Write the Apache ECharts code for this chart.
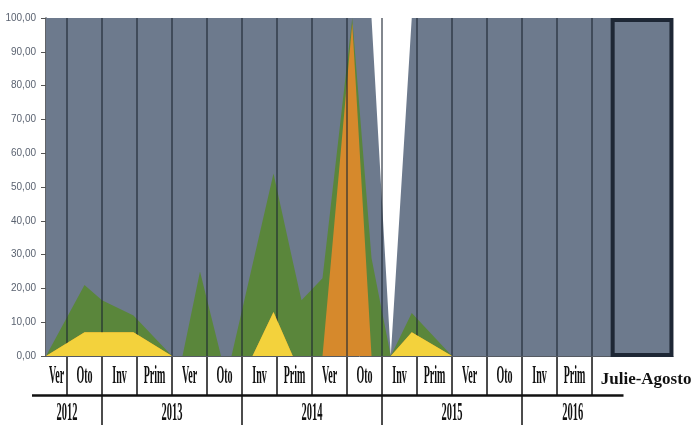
<!DOCTYPE html>
<html><head><meta charset="utf-8">
<script src="https://cdn.jsdelivr.net/npm/echarts@6/dist/echarts.min.js"></script>
<style>html,body{margin:0;padding:0;background:#fff}#c{width:693px;height:425px}</style>
</head><body><div id="c"></div>
<script>
// sample times, in season units (each season category spans one unit; Ver 2012 = [0,1])
const sampleAt   = [0.4, 1.5, 2.0, 2.9, 4.0, 4.3, 4.8, 5.4, 5.7, 6.3, 6.9, 7.45, 7.7, 8.3, 9.15, 9.7, 10.25, 10.85, 12.0, 18.314];
const yellowVals = [0,   7,   7,   7,   0,   0,   0,   0,   0,   0,   13,  0,    0,   0,   0,    0,   0,     7,     0,    0];
const orangeVals = [0,   0,   0,   0,   0,   0,   0,   0,   0,   0,   0,   0,    0,   0,   98.5, 0,   0,     0,     0,    0];
const greenVals  = [0,   14,  9.5, 5,   0,   0,   25,  0,   0,   27,  41,  28,   16.5,23,  1.5,  29,  0,     5.7,   0,    0];
const grayVals   = [100, 79,  83.5,88,  100, 100, 75,  100, 100, 73,  46,  72,   83.5,77,  0,    71,  0,     87.3,  100,  100];

const seasonLabels = ['Ver','Oto','Inv','Prim','Ver','Oto','Inv','Prim','Ver','Oto','Inv','Prim','Ver','Oto','Inv','Prim'];
const yearLabels = ['2012','2013','2014','2015','2016'];
const yearFrom = [0, 2, 6, 10, 14];
const yearTo   = [2, 6, 10, 14, 16.9];
const lastPeriodLabel = 'Julie-Agosto';
const lastPeriodSpan = [16.59, 18.27];
const lastPeriodRange = [0.3, 99.4];

const X_MIN = 0.4, X_MAX = 18.314;
const SERIF = '"Liberation Serif","Times New Roman",serif';

// stacking order bottom -> top: yellow, orange, green, gray
const layers = [yellowVals, orangeVals, greenVals, grayVals];
const cum = [];
layers.forEach((vals, li) => {
  cum.push(vals.map((v, i) => v + (li ? cum[li - 1][i] : 0)));
});

function areaSeries(name, tops, color, extra) {
  return Object.assign({
    name, type: 'line',
    data: sampleAt.map((x, i) => [x, tops[i]]),
    symbol: 'none', showSymbol: false,
    lineStyle: { width: 0 },
    areaStyle: { color, opacity: 1, origin: 'start' },
    itemStyle: { color },
    silent: true
  }, extra || {});
}

const chart = echarts.init(document.getElementById('c'));
chart.setOption({
  animation: false,
  backgroundColor: '#ffffff',
  grid: { left: 46, right: 20, top: 18, bottom: 69, containLabel: false },
  xAxis: {
    type: 'value', min: X_MIN, max: X_MAX,
    axisLine: { show: true, lineStyle: { color: '#555a62', width: 1 } },
    axisTick: { show: false }, axisLabel: { show: false }, splitLine: { show: false }
  },
  yAxis: {
    type: 'value', min: 0, max: 100, interval: 10,
    axisLine: { show: true, lineStyle: { color: '#2b2f36', width: 1.5 } },
    axisTick: { show: true, length: 5, lineStyle: { color: '#555' } },
    splitLine: { show: false },
    axisLabel: {
      formatter: v => v.toFixed(2).replace('.', ','),
      color: '#5a6270', fontSize: 10, fontFamily: '"Liberation Sans",Arial,sans-serif', margin: 10
    }
  },
  series: [
    areaSeries('gray', cum[3], '#6d7a8d', { z: 2 }),
    areaSeries('green', cum[2], '#5a863b', { z: 3 }),
    areaSeries('orange', cum[1], '#d6892c', { z: 4 }),
    areaSeries('yellow', cum[0], '#f3d23c', {
      z: 5,
      markLine: {
        silent: true, symbol: 'none', label: { show: false },
        lineStyle: { color: 'rgba(28,36,50,0.55)', width: 2, type: 'solid' },
        data: seasonLabels.map((_, i) => ({ xAxis: i + 1 }))
      }
    }),
    {
      type: 'custom', name: 'lastBox', silent: true, clip: false, z: 7,
      data: [[lastPeriodSpan[0], lastPeriodRange[0], lastPeriodSpan[1], lastPeriodRange[1]]],
      encode: { x: [0, 2], y: [1, 3] },
      renderItem: function (params, api) {
        const a = api.coord([api.value(0), api.value(3)]);
        const b = api.coord([api.value(2), api.value(1)]);
        return { type: 'rect', shape: { x: a[0], y: a[1], width: b[0] - a[0], height: b[1] - a[1] },
          style: { fill: 'none', stroke: '#1e2735', lineWidth: 4 } };
      }
    },
    {
      type: 'custom', name: 'seasons', silent: true, clip: false, z: 6,
      data: seasonLabels.map((_, i) => [i + 0.5, 0]),
      renderItem: function (params, api) {
        const i = params.dataIndex;
        const l = api.coord([Math.max(i, X_MIN), 0]);
        const r = api.coord([i + 1, 0]);
        const y0 = l[1];
        return { type: 'group', children: [
          { type: 'line', shape: { x1: r[0], y1: y0 + 1, x2: r[0], y2: y0 + 39 }, style: { stroke: '#111', lineWidth: 1.5 } },
          { type: 'text', x: (l[0] + r[0]) / 2, y: y0 + 21, scaleX: 0.4,
            style: { text: seasonLabels[i], font: 'bold 25px ' + SERIF, fill: '#111', align: 'center', verticalAlign: 'middle' } }
        ]};
      }
    },
    {
      type: 'custom', name: 'years', silent: true, clip: false, z: 6,
      data: yearLabels.map((_, k) => [(yearFrom[k] + yearTo[k]) / 2, 0]),
      renderItem: function (params, api) {
        const k = params.dataIndex;
        const a = api.coord([yearFrom[k], 0]);
        const b = api.coord([yearTo[k], 0]);
        const y0 = a[1];
        const children = [
          { type: 'line', shape: { x1: a[0], y1: y0 + 39.5, x2: b[0], y2: y0 + 39.5 }, style: { stroke: '#111', lineWidth: 2.5 } },
          { type: 'text', x: (a[0] + b[0]) / 2, y: y0 + 58, scaleX: 0.42,
            style: { text: yearLabels[k], font: 'bold 25px ' + SERIF, fill: '#111', align: 'center', verticalAlign: 'middle' } }
        ];
        if (k < yearLabels.length - 1) {
          children.push({ type: 'line', shape: { x1: b[0], y1: y0 + 40, x2: b[0], y2: y0 + 72 }, style: { stroke: '#111', lineWidth: 1.5 } });
        }
        return { type: 'group', children };
      }
    },
    {
      type: 'custom', name: 'lastPeriod', silent: true, clip: false, z: 6,
      data: [[(lastPeriodSpan[0] + lastPeriodSpan[1]) / 2, 0]],
      renderItem: function (params, api) {
        const p = api.coord([api.value(0), 0]);
        return { type: 'text', x: p[0] + 4, y: p[1] + 24,
          style: { text: lastPeriodLabel, font: 'bold 17px ' + SERIF, fill: '#111', align: 'center', verticalAlign: 'middle' } };
      }
    }
  ]
});
</script>
</body></html>
